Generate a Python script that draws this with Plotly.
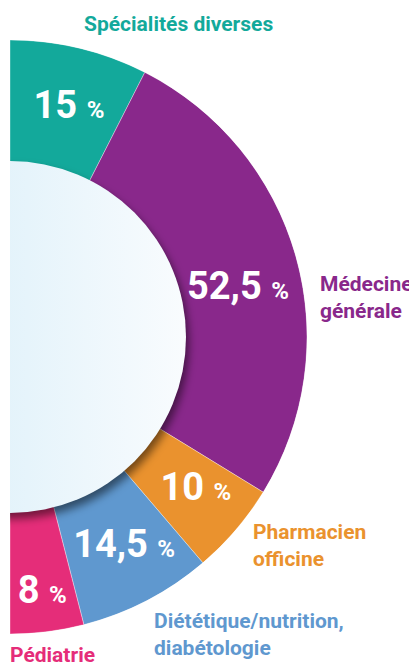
import base64
import plotly.graph_objects as go

# ---- data ----
categories = ["Spécialités diverses", "Médecine générale", "Pharmacien officine",
              "Diététique/nutrition, diabétologie", "Pédiatrie"]
shares = [15, 52.5, 10, 14.5, 8]
category_labels = ["Spécialités diverses", "Médecine<br>générale", "Pharmacien<br>officine",
                   "Diététique/nutrition,<br>diabétologie", "Pédiatrie"]

# ---- style ----
colors = ["#13a99b", "#89288b", "#ea922e", "#5f98cf", "#e52d79"]
FONT = "Roboto, sans-serif"
OFF = 8                      # page body margin of the html page
WIN_W, WIN_H = 417, 669
W, H = WIN_W - OFF, WIN_H - OFF


def fx(px):  # window px -> paper x
    return (px - OFF) / W


def fy(py):  # window px -> paper y
    return 1 - (py - OFF) / H


CX, CY, R, R_IN = 10, 337, 297, 176
HOLE = 0.55
label_r = [0.54, 0.52, 0.58, 0.57, 0.71]
label_dtheta = [1, 4, -1, -1, 0]
# annotation placement (window px): x, y, xanchor
ann_pos = [(178, 24, "center"), (318, 297, "left"), (251, 545, "left"),
           (152, 634, "left"), (8, 655, "left")]

total = sum(shares)
widths = [s / total * 180 for s in shares]
mids = []
acc = 0
for w in widths:
    mids.append(acc + w / 2)
    acc += w


def fmt(v):
    return ("%g" % v).replace(".", ",")


pct_text = [f"{fmt(v)} <span style='font-size:24px'>%</span>" for v in shares]

fig = go.Figure()
fig.add_trace(go.Barpolar(
    theta=mids, width=widths, r=[1] * len(shares), base=[0] * len(shares),
    marker=dict(color=colors, line=dict(color="rgba(255,255,255,0.6)", width=0.6)),
    hoverinfo="skip", showlegend=False,
))
fig.add_trace(go.Scatterpolar(
    theta=[m + d for m, d in zip(mids, label_dtheta)], r=label_r,
    mode="text", text=pct_text, textposition="middle center",
    textfont=dict(family=FONT, size=38, color="white", weight="bold"),
    hoverinfo="skip", showlegend=False,
))

fig.update_layout(
    width=W, height=H, margin=dict(l=0, r=0, t=0, b=0),
    paper_bgcolor="white", plot_bgcolor="white",
    polar=dict(
        domain=dict(x=[fx(CX), fx(CX + R)], y=[fy(CY + R), fy(CY - R)]),
        sector=[-90, 90], hole=HOLE, bgcolor="rgba(0,0,0,0)",
        angularaxis=dict(rotation=90, direction="clockwise", visible=False,
                         showgrid=False, showline=False, ticks=""),
        radialaxis=dict(range=[0, 1], visible=False, showgrid=False, showline=False),
    ),
)

# inner gradient disk with soft shadow
IX0, IY0, IW, IH = CX, 150, 215, 395
ccy = CY - IY0
svg = f"""<svg xmlns='http://www.w3.org/2000/svg' width='{IW}' height='{IH}' viewBox='0 0 {IW} {IH}'>
<defs>
<linearGradient id='g' x1='0' y1='0' x2='1' y2='0'>
<stop offset='0' stop-color='#d3ebf7'/><stop offset='0.55' stop-color='#e6f4fb'/><stop offset='1' stop-color='#f9fcfe'/>
</linearGradient>
<filter id='b' x='-20%' y='-20%' width='140%' height='140%'><feGaussianBlur stdDeviation='4'/></filter>
</defs>
<circle cx='3' cy='{ccy + 6}' r='{R_IN}' fill='rgba(0,0,0,0.5)' filter='url(#b)'/>
<circle cx='0' cy='{ccy}' r='{R_IN}' fill='url(#g)'/>
</svg>"""
src = "data:image/svg+xml;base64," + base64.b64encode(svg.encode()).decode()
fig.add_layout_image(dict(source=src, xref="paper", yref="paper",
                          x=fx(IX0), y=fy(IY0), sizex=IW / W, sizey=IH / H,
                          xanchor="left", yanchor="top", sizing="stretch", layer="above"))

for lab, col, (px, py, xa) in zip(category_labels, colors, ann_pos):
    fig.add_annotation(text=lab, x=fx(px), y=fy(py), xref="paper", yref="paper",
                       xanchor=xa, yanchor="middle", align="left", showarrow=False,
                       font=dict(family=FONT, size=21, color=col, weight="bold"))

fig.write_html("out.html")
